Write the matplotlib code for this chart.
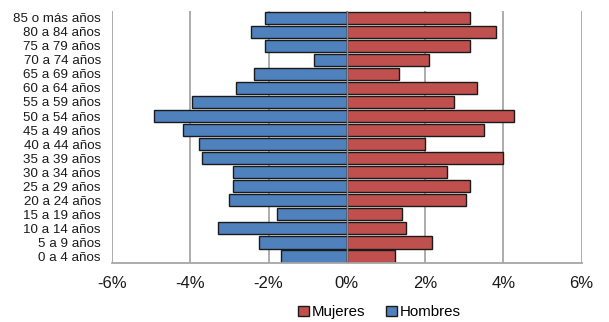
import matplotlib
matplotlib.use("Agg")
import matplotlib.pyplot as plt
from matplotlib.patches import Patch
from matplotlib.ticker import FuncFormatter

plt.rcParams["font.family"] = ["Liberation Sans", "DejaVu Sans"]

# age groups, bottom to top
grupos = ["0 a 4 años", "5 a 9 años", "10 a 14 años", "15 a 19 años", "20 a 24 años",
          "25 a 29 años", "30 a 34 años", "35 a 39 años", "40 a 44 años", "45 a 49 años",
          "50 a 54 años", "55 a 59 años", "60 a 64 años", "65 a 69 años", "70 a 74 años",
          "75 a 79 años", "80 a 84 años", "85 o más años"]
hombres = [-1.68, -2.25, -3.30, -1.79, -3.02, -2.91, -2.91, -3.70, -3.78, -4.18,
           -4.93, -3.96, -2.84, -2.37, -0.85, -2.08, -2.44, -2.08]
mujeres = [1.23, 2.17, 1.52, 1.41, 3.04, 3.14, 2.57, 3.98, 2.00, 3.50,
           4.27, 2.75, 3.32, 1.34, 2.10, 3.14, 3.80, 3.14]
xticks = [-6, -4, -2, 0, 2, 4, 6]

BLUE = "#4F81BD"
RED = "#C0504D"
GRID = "#A6A6A6"

fig = plt.figure(figsize=(6.09, 3.22), dpi=100)
ax = fig.add_axes([0.184, 0.183, 0.771, 0.783])

y = range(len(grupos))
ax.barh(y, hombres, height=0.92, color=BLUE, edgecolor="#1a1a1a", lw=1, zorder=2)
ax.barh(y, mujeres, height=0.92, color=RED, edgecolor="#1a1a1a", lw=1, zorder=2)
ax.axvline(0, color="#8c8c8c", lw=1, zorder=3)

ax.set_xlim(-6, 6)
ax.set_ylim(-0.5, len(grupos) - 0.5)
ax.set_xticks(xticks)
ax.xaxis.set_major_formatter(FuncFormatter(lambda v, p: f"{v:.0f}%"))
ax.set_yticks(list(y))
ax.set_yticklabels(grupos, fontsize=9.6, color="#1a1a1a")
ax.tick_params(axis="y", length=0, pad=8)
ax.tick_params(axis="x", length=0, pad=9, labelsize=12, colors="#1a1a1a")
ax.grid(axis="x", color=GRID, lw=1.3, zorder=0)
ax.set_axisbelow(True)
for s in ["top", "left", "right"]:
    ax.spines[s].set_visible(False)
ax.spines["bottom"].set_color(GRID)
ax.spines["bottom"].set_linewidth(1.3)

handles = [Patch(facecolor=RED, edgecolor="#1a1a1a", label="Mujeres"),
           Patch(facecolor=BLUE, edgecolor="#1a1a1a", label="Hombres")]
fig.legend(handles=handles, loc="center", bbox_to_anchor=(0.623, 0.030), ncol=2,
           frameon=False, fontsize=10.8, handlelength=0.7, handleheight=0.7,
           handletextpad=0.2, columnspacing=1.4)

fig.savefig("out.png", dpi=100, facecolor="white")
